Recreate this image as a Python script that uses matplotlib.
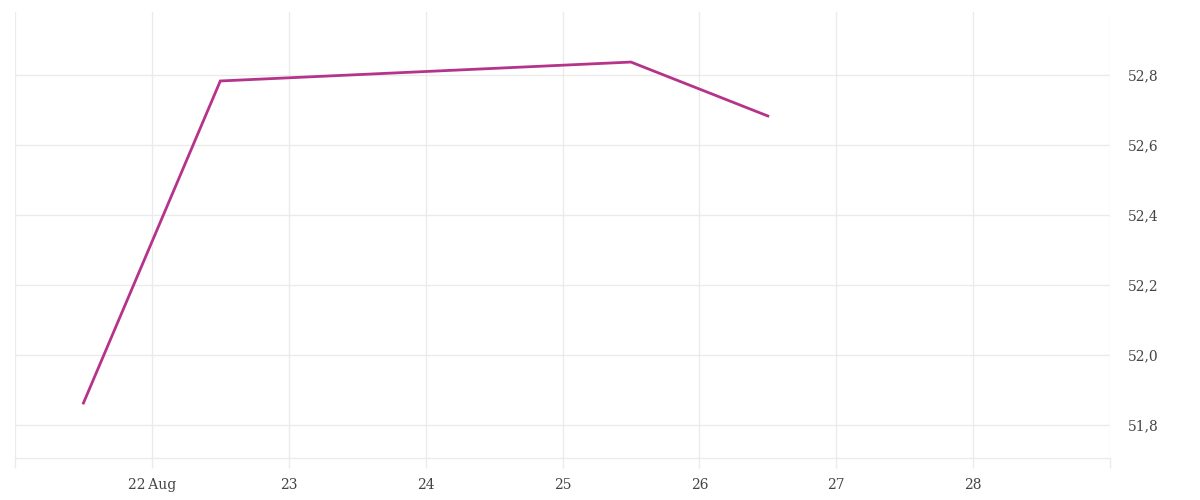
import matplotlib
matplotlib.use("Agg")
import matplotlib.pyplot as plt

# ---------------- Data ----------------
# x in days of August (noon readings), y values
days = [21.5, 22.5, 25.5, 26.5]
values = [51.863, 52.783, 52.837, 52.683]

xticks = [21, 22, 23, 24, 25, 26, 27, 28, 29]
xlabels = ["", "22\u2009Aug", "23", "24", "25", "26", "27", "28", ""]
yticks = [51.8, 52.0, 52.2, 52.4, 52.6, 52.8]

grid_color = "#ebebeb"
text_color = "#444444"
line_color = "#b5338a"

plt.rcParams["font.family"] = ["DejaVu Serif"]

# ---------------- Plot ----------------
fig = plt.figure(figsize=(12, 5), dpi=100)
ax = fig.add_axes([15 / 1200, 1 - 458 / 500, (1110 - 15) / 1200, (458 - 12) / 500])

ax.plot(days, values, color=line_color, linewidth=2, solid_joinstyle="miter")

ax.set_xlim(21, 29)
ax.set_ylim(51.706, 52.98)

ax.set_xticks(xticks)
ax.set_xticklabels(xlabels)
ax.set_yticks(yticks)
ax.set_yticklabels([f"{v:.1f}".replace(".", ",") for v in yticks])

ax.yaxis.tick_right()
ax.tick_params(axis="y", length=0, pad=13, labelsize=10, labelcolor=text_color)
ax.tick_params(axis="x", length=7.2, width=1, color=grid_color, pad=7,
               labelsize=10, labelcolor=text_color)

ax.grid(True, color=grid_color, linewidth=1)
ax.set_axisbelow(True)

for side in ["top", "left", "right"]:
    ax.spines[side].set_visible(False)
ax.spines["bottom"].set_color(grid_color)
ax.spines["bottom"].set_linewidth(1)

fig.savefig("out.png", dpi=100)
